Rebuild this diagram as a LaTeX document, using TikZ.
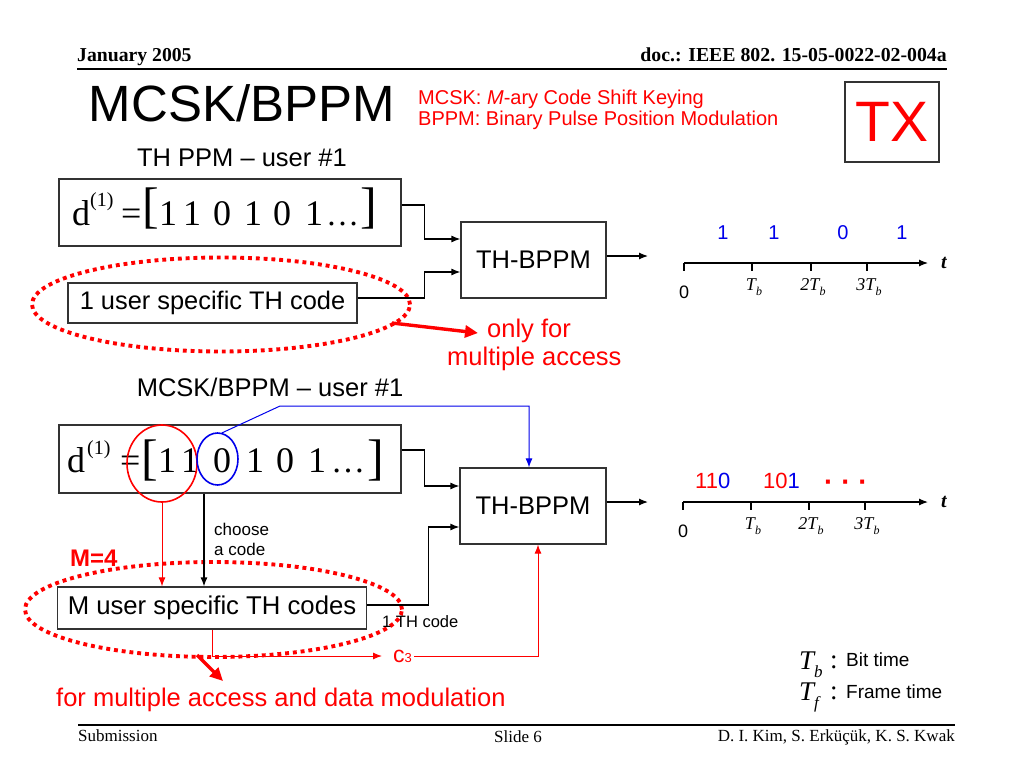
\documentclass[tikz,border=0pt]{standalone}
\usepackage{fontspec}
\setmainfont{Liberation Sans}
\newfontfamily\tms{Liberation Serif}
\usetikzlibrary{arrows.meta,calc,shapes.geometric}
\definecolor{pptred}{RGB}{255,0,0}
\definecolor{pptblue}{RGB}{0,0,235}
\newcommand\fsz[1]{\fontsize{#1}{#1}\selectfont}
\newcommand\Tlab[2]{{\tms\itshape #1T\kern0.02em\raisebox{-0.3em}{\fontsize{12}{12}\selectfont #2}}}
\begin{document}
\begin{tikzpicture}[x=1pt,y=-1pt,
  box/.style={draw=black!80, line width=1.2pt, inner sep=0pt},
  conn/.style={line width=1.2pt, -{Latex[length=9pt,width=7pt]}},
  rconn/.style={draw=pptred, line width=1pt, -{Latex[length=9pt,width=7pt]}},
  bconn/.style={draw=pptblue, line width=1pt, -{Latex[length=9pt,width=7pt]}},
  dotell/.style={ellipse, draw=pptred, line width=3.9pt, dash pattern=on 3.9pt off 3.9pt, inner sep=0pt},
  fatarrow/.style={draw=pptred, line width=3.4pt, -{Triangle[length=13pt,width=12pt]}},
  body/.style={font=\fsz{25.5}},
  txt/.style={inner sep=0pt},
  ser/.style={font=\tms\fsz{36}, inner sep=0pt},
  sup/.style={font=\tms\fsz{20}, inner sep=0pt, anchor=base west},
  brk/.style={font=\tms\fsz{50}, inner sep=0pt},
  tick/.style={line width=1.1pt},
  axlab/.style={font=\fsz{18}, inner sep=0pt, anchor=base},
  tlab/.style={font=\fsz{18}, inner sep=0pt, anchor=base}
]
\useasboundingbox (0,0) rectangle (1024,768);
\fill[white] (0,0) rectangle (1024,768);

% ---------------- header ----------------
\node[txt, anchor=base west, font=\tms\bfseries\fsz{19.7}] (hdate) at (77,62) {January 2005};
\node[txt, anchor=base east, font=\tms\bfseries\fsz{19.8}] (hdoc) at (947,62) {doc.: IEEE 802. 15-05-0022-02-004a};
\coordinate (hlA) at (77,69);
\coordinate (hlB) at (947,69);
\draw[line width=1.6pt] (hlA) -- (hlB);

\node[txt, anchor=base, font=\fsz{51}] (title) at (242,121) {MCSK/BPPM};
\node[txt, anchor=base west, font=\fsz{20}, text=pptred] (def1) at (418,104) {MCSK: \textit{M}-ary Code Shift Keying};
\node[txt, anchor=base west, font=\fsz{20}, text=pptred] (def2) at (418,125) {BPPM: Binary Pulse Position Modulation};
\node[box, minimum width=94pt, minimum height=80pt, font=\fsz{57}, text=pptred] (tx) at (892,122) {TX};

% ---------------- top: TH PPM ----------------
\node[txt, anchor=base, body] (cap1) at (242,166) {TH PPM – user \#1};

\node[box, minimum width=342pt, minimum height=67pt] (dbox1) at (230,212.5) {};
\node[ser, anchor=base west] (dA) at (72,225) {d};
\node[sup] (sA) at (90,206) {(1)};
\node[ser, anchor=base west] (eqA) at (121,225) {=};
\node[brk] (lbA) at (151,208) {[};
\foreach \x/\d [count=\i] in {168/1,192/1,222/0,253/1,282/0,314/1}
  \node[ser, anchor=base] (digA\i) at (\x,225) {\d};
\node[ser, anchor=base west, font=\tms\fsz{33}] (dotsA) at (326,225) {…};
\node[brk] (rbA) at (369,208) {]};

\node[box, minimum width=145pt, minimum height=76pt, body] (th1) at (533.5,260) {TH-BPPM};
\node[box, minimum width=289pt, minimum height=40pt, font=\fsz{25.4}] (code1) at (212.5,303) {1 user specific TH code};
\node[dotell, minimum width=378pt, minimum height=94pt] (ell1) at (221,304.5) {};

\draw[conn] ($(dbox1.east)+(0,-7.5)$) -- ++(23,0) |- ($(th1.west)+(0,-21)$);
\draw[conn] ($(code1.east)+(0,-5)$) -- ++(67,0) |- ($(th1.west)+(0,12)$);
\coordinate (out1) at (648,256);
\draw[conn] ($(th1.east)+(0,-4)$) -- (out1);

\coordinate (fa1) at (392,323);
\coordinate (fa1e) at (478,333);
\draw[fatarrow] (fa1) -- (fa1e);
\node[txt, anchor=base west, body, text=pptred] (only1) at (487,337) {only for};
\node[txt, anchor=base west, body, text=pptred] (only2) at (447,365) {multiple access};

% timeline 1
\coordinate (ax1a) at (684,263);
\coordinate (ax1b) at (928,263);
\draw[conn] (ax1a) -- (ax1b);
\foreach \x in {684,752,811,867} \draw[tick] (\x,263) -- (\x,271);
\node[txt, anchor=base, font=\tms\bfseries\itshape\fsz{20}] (t1) at (944,268) {t};
\node[axlab] (z1) at (684,298) {0};
\node[tlab] (tb1) at (754,290) {\Tlab{}{b}};
\node[tlab] (tb2) at (813,290) {\Tlab{2}{b}};
\node[tlab] (tb3) at (869,290) {\Tlab{3}{b}};
\foreach \x/\d [count=\i] in {723/1,774/1,843/0,902/1}
  \node[txt, anchor=base, font=\fsz{20}, text=pptblue] (bit\i) at (\x,239) {\d};

% ---------------- bottom: MCSK/BPPM ----------------
\node[txt, anchor=base, body] (cap2) at (270,396) {MCSK/BPPM – user \#1};

\node[box, minimum width=342pt, minimum height=68pt] (dbox2) at (230,459) {};
\node[ser, anchor=base west] (dB) at (67,472) {d};
\node[sup] (sB) at (87,454) {(1)};
\node[ser, anchor=base west] (eqB) at (120,472) {=};
\node[brk] (lbB) at (149.5,460.5) {[};
\foreach \x/\d [count=\i] in {167/1,190/1,222/0,255/1,285/0,317/1}
  \node[ser, anchor=base] (digB\i) at (\x,472) {\d};
\node[ser, anchor=base west, font=\tms\fsz{34}] (dotsB) at (331,472) {…};
\node[brk] (rbB) at (376,460.5) {]};

\node[ellipse, draw=pptred, line width=1.6pt, inner sep=0pt, minimum width=70pt, minimum height=77pt] (ellR) at (162,463.5) {};
\node[ellipse, draw=pptblue, line width=1.6pt, inner sep=0pt, minimum width=41pt, minimum height=52pt] (ellB) at (217.5,459) {};

\node[box, minimum width=146pt, minimum height=76pt, body] (th2) at (533,506) {TH-BPPM};
\node[box, minimum width=309pt, minimum height=42pt, font=\fsz{25.7}] (mbox) at (212,608) {M user specific TH codes};
\node[dotell, minimum width=377pt, minimum height=95pt] (ell2) at (213.5,609.5) {};

\coordinate (bbend) at (280,406);
\draw[bconn] (ellB.80) -- (bbend) -| ($(th2.north)+(-4,0)$);
\draw[conn] ($(dbox2.east)+(0,-9)$) -- ++(23,0) |- ($(th2.west)+(0,-20)$);
\draw[rconn] (ellR.south) -- (ellR.south |- mbox.north);
\coordinate (bx) at ($(dbox2.south)+(-26,0)$);
\draw[conn] (bx) -- (bx |- mbox.north);
\node[txt, anchor=north west, align=left, font=\fontsize{17}{20}\selectfont] (choose) at (214,523) {choose\\a code};
\node[txt, anchor=base west, font=\bfseries\fsz{24}, text=pptred] (m4) at (70,566) {M=4};
\draw[conn] ($(mbox.east)+(0,-3)$) -- ++(61,0) |- ($(th2.west)+(0,21)$);
\node[txt, anchor=base west, font=\fsz{16.5}] (one) at (382,627) {1 TH code};

\node[anchor=west, inner sep=2pt, font=\fsz{23}, text=pptred] (c3) at (391,656) {c{\fsz{13}3}};
\draw[rconn, shorten >=9pt] (mbox.south) |- (c3.west);
\draw[rconn] (c3.east) -| ($(th2.south)+(5,0)$);

\coordinate (fa2) at (197,655);
\coordinate (fa2e) at (223,681);
\draw[fatarrow] (fa2) -- (fa2e);
\node[txt, anchor=base west, body, text=pptred] (formad) at (56,706) {for multiple access and data modulation};

\coordinate (out2) at (648,502);
\draw[conn] ($(th2.east)+(0,-4)$) -- (out2);

% timeline 2
\coordinate (ax2a) at (683,502);
\coordinate (ax2b) at (928,502);
\draw[conn] (ax2a) -- (ax2b);
\foreach \x in {683,751,809,865} \draw[tick] (\x,502) -- (\x,510);
\node[txt, anchor=base, font=\tms\bfseries\itshape\fsz{20}] (t2) at (944,507) {t};
\node[axlab] (z2) at (683,537) {0};
\node[tlab] (tc1) at (753,529) {\Tlab{}{b}};
\node[tlab] (tc2) at (811,529) {\Tlab{2}{b}};
\node[tlab] (tc3) at (867,529) {\Tlab{3}{b}};
\node[txt, anchor=base west, font=\fsz{22}] (grp1) at (695,488) {\textcolor{pptred}{11}\textcolor{pptblue}{0}};
\node[txt, anchor=base west, font=\fsz{22}] (grp2) at (763,488) {\textcolor{pptred}{10}\textcolor{pptblue}{1}};
\node[txt, anchor=base west, font=\bfseries\fsz{28}, text=pptred] (more) at (824,491.5) {· · ·};

% legend
\node[txt, anchor=base west, font=\tms\itshape\fsz{27}] (lTb) at (799,669) {T\raisebox{-0.3em}{\fsz{17}b}};
\node[txt, anchor=base west, font=\tms\fsz{27}] (lc1) at (830,668) {:};
\node[txt, anchor=base west, font=\fsz{19}] (lbit) at (846,666) {Bit time};
\node[txt, anchor=base west, font=\tms\itshape\fsz{27}] (lTf) at (799,700) {T\raisebox{-0.3em}{\fsz{17}f}};
\node[txt, anchor=base west, font=\tms\fsz{27}] (lc2) at (830,699) {:};
\node[txt, anchor=base west, font=\fsz{19}] (lframe) at (846,698) {Frame time};

% footer
\coordinate (flA) at (78,725);
\coordinate (flB) at (955,725);
\draw[line width=1.3pt] (flA) -- (flB);
\node[txt, anchor=base west, font=\tms\fsz{17}] (sub) at (78,741) {Submission};
\node[txt, anchor=base, font=\tms\fsz{17}] (slide) at (518,742) {Slide 6};
\node[txt, anchor=base east, font=\tms\fsz{17}] (auth) at (955,741) {D. I. Kim, S. Erküçük, K. S. Kwak};
\end{tikzpicture}
\end{document}
